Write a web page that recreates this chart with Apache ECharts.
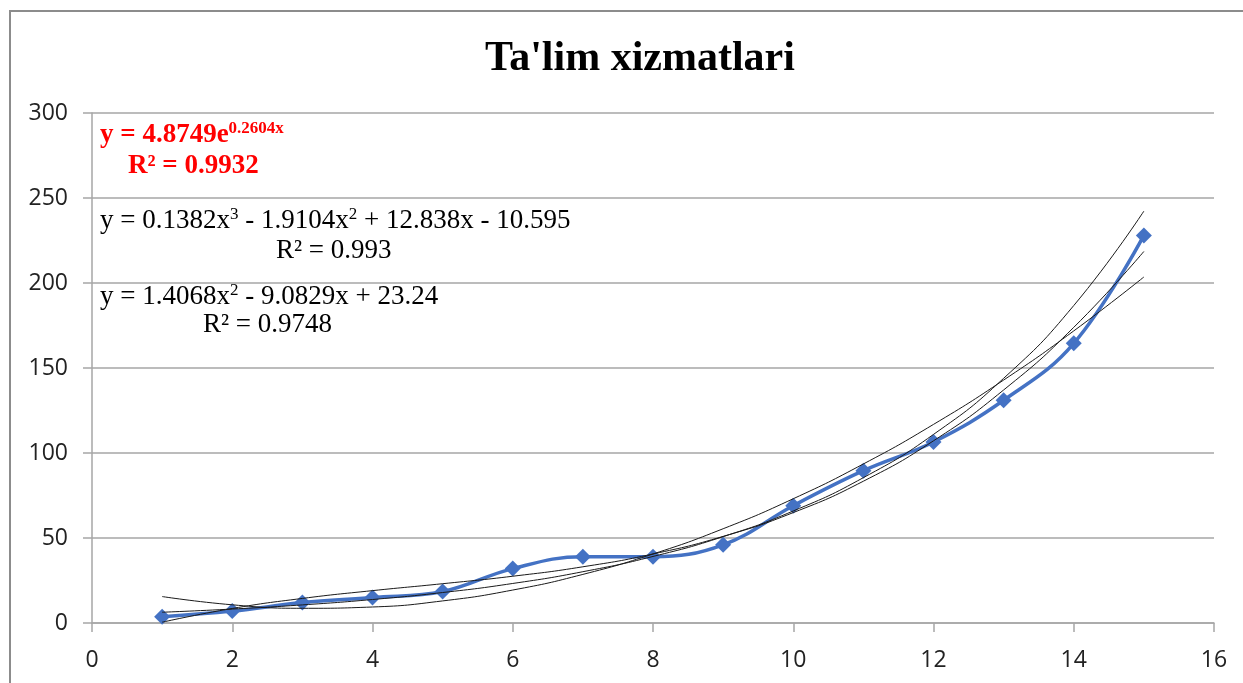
<!DOCTYPE html>
<html>
<head>
<meta charset="utf-8">
<script src="https://cdn.jsdelivr.net/npm/echarts@6/dist/echarts.min.js"></script>
<style>
  html, body { margin: 0; padding: 0; background: #fff; }
  #chart { width: 1243px; height: 683px; }
</style>
</head>
<body>
<div id="chart"></div>
<script>
// data
var xValues = [1, 2, 3, 4, 5, 6, 7, 8, 9, 10, 11, 12, 13, 14, 15];
var yValues = [3.7, 7, 12, 15, 18.5, 32, 39, 39, 46, 69, 89.6, 106.5, 131, 164.5, 228];
var xTicks = [0, 2, 4, 6, 8, 10, 12, 14, 16];
var yTicks = [0, 50, 100, 150, 200, 250, 300];

// trend line coefficients as printed on the chart
var expCoef = [4.8749, 0.2604];                    // a * e^(b x)
var cubicCoef = [0.1382, -1.9104, 12.838, -10.595]; // x^3, x^2, x, 1
var quadCoef = [1.4068, -9.0829, 23.24];            // x^2, x, 1

window.addEventListener('load', function() {
    var chart = echarts.init(document.getElementById('chart'));

    var expLine = xValues.map(function(x) {
        return [x, expCoef[0] * Math.exp(expCoef[1] * x)];
    });
    var cubicLine = xValues.map(function(x) {
        return [x, cubicCoef[0] * x * x * x + cubicCoef[1] * x * x + cubicCoef[2] * x + cubicCoef[3]];
    });
    var quadLine = xValues.map(function(x) {
        return [x, quadCoef[0] * x * x + quadCoef[1] * x + quadCoef[2]];
    });
    var points = xValues.map(function(x, i) { return [x, yValues[i]]; });

    var serif = '"Liberation Serif", "Times New Roman", serif';
    var eqRich = {
        n: { fontFamily: serif, fontSize: 27, fill: '#000', lineHeight: 30 },
        s: { fontFamily: serif, fontSize: 17, fill: '#000', verticalAlign: 'top', lineHeight: 17 },
        rn: { fontFamily: serif, fontSize: 27, fontWeight: 'bold', fill: '#ff0000', lineHeight: 30 },
        rs: { fontFamily: serif, fontSize: 17, fontWeight: 'bold', fill: '#ff0000', verticalAlign: 'top', lineHeight: 17 }
    };

    function trend(data) {
        return {
            type: 'line',
            data: data,
            smooth: true,
            symbol: 'none',
            silent: true,
            z: 3,
            lineStyle: { color: '#1a1a1a', width: 1 }
        };
    }

    chart.setOption({
        animation: false,
        title: {
            text: "Ta'lim xizmatlari",
            left: 480,
            top: 33,
            textStyle: {
                fontFamily: serif,
                fontSize: 42,
                fontWeight: 'bold',
                color: '#000'
            }
        },
        grid: { left: 92, right: 29, top: 113, bottom: 60 },
        xAxis: {
            type: 'value',
            min: 0,
            max: 16,
            interval: 2,
            axisLine: { lineStyle: { color: '#a6a6a6', width: 1.5 } },
            axisTick: { show: true, length: 9, lineStyle: { color: '#a6a6a6', width: 1.5 } },
            splitLine: { show: false },
            axisLabel: {
                margin: 26,
                fontFamily: '"Open Sans", sans-serif',
                fontSize: 23,
                color: '#222',
                formatter: function(v) { return xTicks.indexOf(v) >= 0 ? String(v) : ''; }
            }
        },
        yAxis: {
            type: 'value',
            min: 0,
            max: 300,
            interval: 50,
            axisLine: { show: true, lineStyle: { color: '#a6a6a6', width: 1.5 } },
            axisTick: { show: true, length: 9, lineStyle: { color: '#a6a6a6', width: 1.5 } },
            splitLine: { show: true, lineStyle: { color: '#a6a6a6', width: 1.5 } },
            axisLabel: {
                margin: 24,
                fontFamily: '"Open Sans", sans-serif',
                fontSize: 23,
                color: '#222',
                formatter: function(v) { return yTicks.indexOf(v) >= 0 ? String(v) : ''; }
            }
        },
        series: [
            {
                type: 'line',
                data: points,
                smooth: 0.4,
                symbol: 'diamond',
                symbolSize: 16,
                z: 2,
                itemStyle: { color: '#4472c4' },
                lineStyle: { color: '#4472c4', width: 3.5 }
            },
            trend(expLine),
            trend(cubicLine),
            trend(quadLine)
        ],
        graphic: [
            {
                type: 'rect',
                shape: { x: 10, y: 11, width: 1300, height: 800 },
                style: { fill: 'none', stroke: '#8c8c8c', lineWidth: 2 },
                silent: true
            },
            {
                type: 'text',
                left: 100,
                top: 120,
                style: {
                    text: '{rn|y = 4.8749e}{rs|0.2604x}',
                    rich: eqRich
                }
            },
            {
                type: 'text',
                left: 128,
                top: 153,
                style: { text: '{rn|R² = 0.9932}', rich: eqRich }
            },
            {
                type: 'text',
                left: 100,
                top: 206,
                style: {
                    text: '{n|y = 0.1382x}{s|3}{n| - 1.9104x}{s|2}{n| + 12.838x - 10.595}',
                    rich: eqRich
                }
            },
            {
                type: 'text',
                left: 276,
                top: 237,
                style: { text: '{n|R² = 0.993}', rich: eqRich }
            },
            {
                type: 'text',
                left: 100,
                top: 282,
                style: {
                    text: '{n|y = 1.4068x}{s|2}{n| - 9.0829x + 23.24}',
                    rich: eqRich
                }
            },
            {
                type: 'text',
                left: 203,
                top: 311,
                style: { text: '{n|R² = 0.9748}', rich: eqRich }
            }
        ]
    });
});
</script>
</body>
</html>
